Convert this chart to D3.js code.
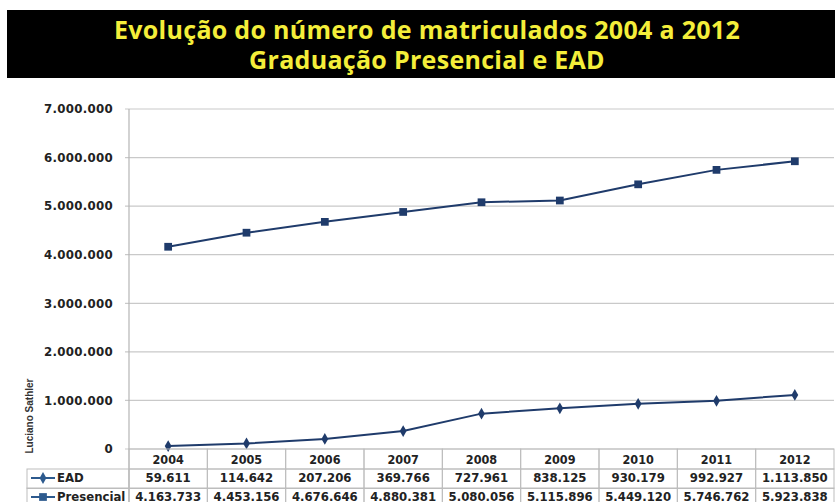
<!DOCTYPE html>
<html>
<head>
<meta charset="utf-8">
<script src="https://cdn.jsdelivr.net/npm/d3@7"></script>
<style>
  body { margin: 0; background: #fff; }
  svg { display: block; }
</style>
</head>
<body>
<div id="chart"></div>
<script>
// chart data
let years = ['2004', '2005', '2006', '2007', '2008', '2009', '2010', '2011', '2012'];
let ead = [59611, 114642, 207206, 369766, 727961, 838125, 930179, 992927, 1113850];
let presencial = [4163733, 4453156, 4676646, 4880381, 5080056, 5115896, 5449120, 5746762, 5923838];
let seriesNames = ['EAD', 'Presencial'];
let yTicks = [0, 1000000, 2000000, 3000000, 4000000, 5000000, 6000000, 7000000];
let titleLines = ['Evolução do número de matriculados 2004 a 2012', 'Graduação Presencial e EAD'];

let width = 835;
let height = 502;
let navy = '#1f3b6b';
let gridColor = '#c9c9c9';

let locale = d3.formatLocale({ decimal: ',', thousands: '.', grouping: [3], currency: ['', ''] });
let fmt = locale.format(',d');

let svg = d3.select('#chart')
    .append('svg')
    .attr('width', width)
    .attr('height', height);

// title banner
svg.append('rect')
    .attr('x', 7).attr('y', 10)
    .attr('width', width - 7).attr('height', 68)
    .attr('fill', '#000');
svg.selectAll('.title')
    .data(titleLines)
    .enter()
    .append('text')
    .classed('title', true)
    .attr('x', 427)
    .attr('y', (d, i) => 39 + i * 30)
    .attr('text-anchor', 'middle')
    .attr('font-family', 'Open Sans, sans-serif')
    .attr('font-weight', 'bold')
    .attr('font-size', 25)
    .attr('letter-spacing', 0.3)
    .attr('fill', '#f4ee3a')
    .text(d => d);

let plot = { left: 129, right: 834, top: 109, bottom: 449 };

let xScale = d3.scaleBand()
    .domain(years)
    .range([plot.left, plot.right]);
let yScale = d3.scaleLinear()
    .domain([0, 7000000])
    .range([plot.bottom, plot.top]);

// gridlines
svg.append('g')
    .selectAll('line')
    .data(yTicks)
    .enter()
    .append('line')
    .attr('x1', plot.left - 4).attr('x2', plot.right)
    .attr('y1', d => yScale(d)).attr('y2', d => yScale(d))
    .attr('stroke', gridColor)
    .attr('stroke-width', 1.2);

let yAxis = d3.axisLeft(yScale)
    .tickValues(yTicks)
    .tickSize(0)
    .tickPadding(16)
    .tickFormat(d => fmt(d));
let yAxisGroup = svg.append('g')
    .attr('transform', `translate(${plot.left},0)`)
    .call(yAxis);
yAxisGroup.select('.domain').remove();
yAxisGroup.selectAll('text')
    .attr('font-family', 'DejaVu Sans, sans-serif')
    .attr('font-weight', 'bold')
    .attr('font-size', 11.8)
    .attr('letter-spacing', 0.3)
    .attr('fill', '#222');

// vertical axis line running down through the table
svg.append('line')
    .attr('x1', plot.left).attr('x2', plot.left)
    .attr('y1', plot.top).attr('y2', height)
    .attr('stroke', '#b5b5b5')
    .attr('stroke-width', 1.2);

// series lines
let seriesData = [ead, presencial];
let cx = (d, i) => xScale(years[i]) + xScale.bandwidth() / 2;
let lineGen = d3.line()
    .x(cx)
    .y(d => yScale(d));

svg.selectAll('.series')
    .data(seriesData)
    .enter()
    .append('path')
    .classed('series', true)
    .attr('d', lineGen)
    .attr('fill', 'none')
    .attr('stroke', navy)
    .attr('stroke-width', 2);

let diamond = d3.symbol().type(d3.symbolDiamond).size(40);
let square = d3.symbol().type(d3.symbolSquare).size(60);

svg.append('g').selectAll('path')
    .data(ead)
    .enter()
    .append('path')
    .attr('d', diamond)
    .attr('transform', (d, i) => `translate(${cx(d, i)},${yScale(d)})`)
    .attr('fill', navy);
svg.append('g').selectAll('path')
    .data(presencial)
    .enter()
    .append('path')
    .attr('d', square)
    .attr('transform', (d, i) => `translate(${cx(d, i)},${yScale(d)})`)
    .attr('fill', navy);

// data table
let tableColor = '#bdbdbd';
let rowTop = [449, 469, 488];
let rowH = 19.5;
let legendLeft = 27;
let cellFont = 'DejaVu Sans Condensed, sans-serif';
let table = svg.append('g');

// header row (years)
table.selectAll('.hcell')
    .data(years)
    .enter()
    .append('rect')
    .attr('x', d => xScale(d)).attr('y', rowTop[0])
    .attr('width', xScale.bandwidth()).attr('height', rowTop[1] - rowTop[0])
    .attr('fill', 'none').attr('stroke', tableColor);
table.selectAll('.htext')
    .data(years)
    .enter()
    .append('text')
    .attr('x', d => xScale(d) + xScale.bandwidth() / 2)
    .attr('y', rowTop[0] + 15)
    .attr('text-anchor', 'middle')
    .attr('font-family', cellFont)
    .attr('font-weight', 'bold')
    .attr('font-size', 12.5)
    .attr('fill', '#222')
    .text(d => d);

seriesData.forEach((vals, r) => {
    let y0 = rowTop[r + 1];
    let g = table.append('g');
    g.append('rect')
        .attr('x', legendLeft).attr('y', y0)
        .attr('width', plot.left - legendLeft).attr('height', rowH)
        .attr('fill', 'none').attr('stroke', tableColor);
    g.selectAll('.cell')
        .data(vals)
        .enter()
        .append('rect')
        .attr('x', (d, i) => xScale(years[i])).attr('y', y0)
        .attr('width', xScale.bandwidth()).attr('height', rowH)
        .attr('fill', 'none').attr('stroke', tableColor);
    g.selectAll('.val')
        .data(vals)
        .enter()
        .append('text')
        .attr('x', (d, i) => cx(d, i))
        .attr('y', y0 + 13)
        .attr('text-anchor', 'middle')
        .attr('font-family', cellFont)
        .attr('font-weight', 'bold')
        .attr('font-size', 13)
        .attr('fill', '#222')
        .text(d => fmt(d));
    // legend key
    let ly = y0 + 9;
    g.append('line')
        .attr('x1', 31).attr('x2', 55)
        .attr('y1', ly).attr('y2', ly)
        .attr('stroke', '#2d5a8e').attr('stroke-width', 2);
    g.append('path')
        .attr('d', r === 0 ? diamond : square)
        .attr('transform', `translate(43,${ly})`)
        .attr('fill', '#2d5a8e');
    g.append('text')
        .attr('x', 57).attr('y', y0 + 13)
        .attr('font-family', cellFont)
        .attr('font-weight', 'bold')
        .attr('font-size', 13)
        .attr('fill', '#222')
        .text(seriesNames[r]);
});

// watermark
svg.append('text')
    .attr('transform', 'translate(33,416) rotate(-90)')
    .attr('text-anchor', 'middle')
    .attr('font-family', 'Liberation Sans Narrow, Liberation Sans, sans-serif')
    .attr('font-weight', 'bold')
    .attr('font-size', 10)
    .attr('fill', '#333')
    .text('Luciano Sathler');
</script>
</body>
</html>
